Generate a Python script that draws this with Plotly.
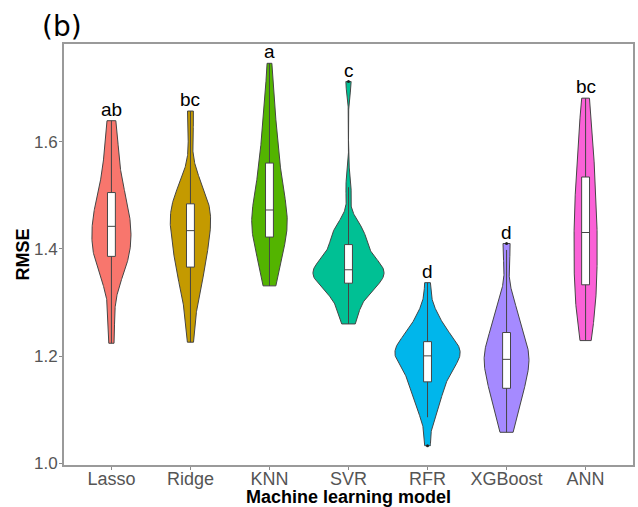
import numpy as np
import plotly.graph_objects as go

# Repeated-validation RMSE for each machine learning model
models = ["Lasso", "Ridge", "KNN", "SVR", "RFR", "XGBoost", "ANN"]
fill_colors = ["#F8766D", "#C49A00", "#53B400", "#00C094", "#00B6EB", "#A58AFF", "#FB61D7"]
group_letters = ["ab", "bc", "a", "c", "d", "d", "bc"]

rmse_lasso = [1.224, 1.262, 1.330, 1.352, 1.364, 1.373, 1.380, 1.386, 1.392, 1.399,
              1.406, 1.414, 1.422, 1.430, 1.438, 1.446, 1.453, 1.460, 1.467, 1.474,
              1.482, 1.492, 1.505, 1.518, 1.532, 1.550, 1.572, 1.598, 1.620, 1.639]
rmse_ridge = [1.226, 1.262, 1.296, 1.318, 1.336, 1.348, 1.358, 1.366, 1.374, 1.384,
              1.394, 1.404, 1.414, 1.422, 1.430, 1.438, 1.445, 1.451, 1.457, 1.463,
              1.469, 1.476, 1.484, 1.490, 1.497, 1.505, 1.514, 1.530, 1.634, 1.657]
rmse_knn = [1.331, 1.335, 1.350, 1.378, 1.396, 1.407, 1.415, 1.422, 1.430, 1.436,
            1.442, 1.448, 1.453, 1.459, 1.467, 1.478, 1.487, 1.497, 1.508, 1.520,
            1.533, 1.547, 1.560, 1.578, 1.596, 1.614, 1.636, 1.660, 1.695, 1.746]
rmse_svr = [1.260, 1.272, 1.290, 1.305, 1.316, 1.324, 1.330, 1.336, 1.340, 1.344,
            1.348, 1.352, 1.355, 1.358, 1.360, 1.362, 1.365, 1.368, 1.372, 1.378,
            1.386, 1.398, 1.408, 1.416, 1.424, 1.431, 1.438, 1.444, 1.515, 1.712]
rmse_rfr = [1.033, 1.086, 1.100, 1.114, 1.126, 1.137, 1.146, 1.152, 1.160, 1.170,
            1.178, 1.185, 1.190, 1.195, 1.199, 1.202, 1.205, 1.208, 1.211, 1.214,
            1.218, 1.222, 1.227, 1.234, 1.242, 1.251, 1.261, 1.272, 1.285, 1.337]
rmse_xgb = [1.058, 1.072, 1.088, 1.102, 1.114, 1.124, 1.132, 1.140, 1.148, 1.158,
            1.167, 1.174, 1.180, 1.186, 1.191, 1.197, 1.202, 1.207, 1.213, 1.220,
            1.227, 1.234, 1.244, 1.256, 1.268, 1.281, 1.294, 1.306, 1.398, 1.410]
rmse_ann = [1.229, 1.246, 1.262, 1.277, 1.292, 1.306, 1.320, 1.333, 1.346, 1.359,
            1.372, 1.385, 1.398, 1.411, 1.424, 1.437, 1.450, 1.463, 1.476, 1.489,
            1.502, 1.518, 1.534, 1.550, 1.568, 1.588, 1.610, 1.632, 1.656, 1.681]

series = [rmse_lasso, rmse_ridge, rmse_knn, rmse_svr, rmse_rfr, rmse_xgb, rmse_ann]

HALF_WIDTH = 0.45   # half-width of the widest violin, in category units
BOX_WIDTH = 0.1     # inner box width, in category units
X_RANGE = [-0.6, 6.6]
Y_RANGE = [0.997, 1.782]


def nrd0(values):
    """Silverman-style bandwidth with the 0.9 factor (R's bw.nrd0)."""
    v = np.asarray(values, dtype=float)
    q1, q3 = np.percentile(v, [25, 75])
    spread = min(v.std(ddof=1), (q3 - q1) / 1.34)
    return 0.9 * spread * len(v) ** -0.2


def kde(values, bw, npts=256):
    """Gaussian KDE evaluated over the sample range (trimmed violin)."""
    v = np.asarray(values, dtype=float)
    grid = np.linspace(v.min(), v.max(), npts)
    z = (grid[:, None] - v[None, :]) / bw
    dens = np.exp(-0.5 * z ** 2).sum(axis=1) / (len(v) * bw * np.sqrt(2 * np.pi))
    return grid, dens


densities = [kde(v, nrd0(v)) for v in series]
dens_max = max(d.max() for _, d in densities)

FONT = "Liberation Sans, Arial, sans-serif"
fig = go.Figure()

# violins: every outline encloses the same area (densities share one scale)
for i, ((grid, dens), col) in enumerate(zip(densities, fill_colors)):
    half = dens / dens_max * HALF_WIDTH
    xs = np.concatenate([i - half, (i + half)[::-1], [i - half[0]]])
    ys = np.concatenate([grid, grid[::-1], [grid[0]]])
    fig.add_trace(go.Scatter(
        x=xs, y=ys, mode="lines", fill="toself", fillcolor=col,
        line=dict(color="#454545", width=1),
        hoverinfo="skip", showlegend=False,
    ))

# inner box plots with outliers, on an overlaid axis pair so they sit on top
for i, vals in enumerate(series):
    fig.add_trace(go.Box(
        x=[i] * len(vals), y=vals, name=models[i],
        xaxis="x2", yaxis="y2",
        width=BOX_WIDTH, fillcolor="white",
        line=dict(color="#454545", width=1), whiskerwidth=0,
        boxpoints="outliers", pointpos=0, jitter=0,
        marker=dict(color="#222222", size=3, line=dict(width=0)),
        showlegend=False,
    ))

# significance letters above each violin
for i, (vals, lab) in enumerate(zip(series, group_letters)):
    fig.add_annotation(x=i, y=max(vals), text=lab, showarrow=False,
                       xanchor="center", yanchor="bottom", yshift=-1,
                       font=dict(family=FONT, size=19, color="black"))

# panel tag
fig.add_annotation(xref="paper", yref="paper", x=-0.042, y=1.0, yshift=-1,
                   text="(b)", showarrow=False, xanchor="left", yanchor="bottom",
                   font=dict(family="DejaVu Sans", size=28, color="black"))

fig.update_layout(
    template="none",
    width=638, height=507,
    margin=dict(l=64, r=5, t=44, b=42),
    paper_bgcolor="white", plot_bgcolor="white",
    boxmode="overlay",
    font=dict(family=FONT),
    xaxis=dict(
        range=X_RANGE, automargin=False,
        tickvals=list(range(len(models))), ticktext=models,
        showgrid=False, zeroline=False,
        showline=True, linecolor="#9a9a9a", linewidth=2, mirror=True,
        ticks="outside", ticklen=3, tickcolor="#8a8a8a", tickwidth=1,
        ticklabelstandoff=-7,
        tickfont=dict(family=FONT, size=18, color="#555555"),
        title=dict(text="<b>Machine learning model</b>", standoff=0,
                   font=dict(family=FONT, size=18, color="black")),
    ),
    yaxis=dict(
        range=Y_RANGE, automargin=False,
        tickvals=[1.0, 1.2, 1.4, 1.6], ticktext=["1.0", "1.2", "1.4", "1.6"],
        showgrid=False, zeroline=False,
        showline=True, linecolor="#9a9a9a", linewidth=2, mirror=True,
        ticks="outside", ticklen=3, tickcolor="#8a8a8a", tickwidth=1,
        ticklabelstandoff=-2,
        tickfont=dict(family=FONT, size=17, color="#555555"),
        title=dict(text="<b>RMSE</b>", standoff=0,
                   font=dict(family=FONT, size=18, color="black")),
    ),
    xaxis2=dict(overlaying="x", range=X_RANGE, visible=False, automargin=False),
    yaxis2=dict(overlaying="y", range=Y_RANGE, visible=False, automargin=False),
)

fig.write_html("out.html")
